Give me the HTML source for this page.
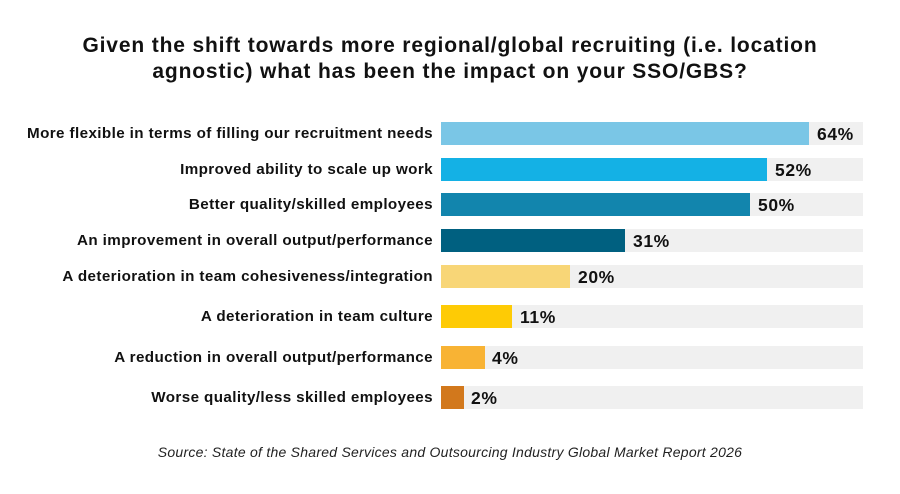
<!DOCTYPE html>
<html><head><meta charset="utf-8"><style>
body{margin:0;width:900px;height:494px;background:#fff;font-family:"Liberation Sans",sans-serif;position:relative;overflow:hidden}
.t{position:absolute;left:0;width:900px;text-align:center;font-weight:bold;font-size:21px;letter-spacing:0.85px;color:#111}
.l{position:absolute;right:467px;font-weight:bold;font-size:15.2px;letter-spacing:0.4px;color:#111;white-space:nowrap;line-height:24px}
.tr{position:absolute;left:441px;width:422px;height:23px;background:#f0f0f0}
.b{position:absolute;left:441px;height:23px}
.v{position:absolute;font-weight:bold;font-size:17.5px;letter-spacing:0.6px;color:#111;line-height:24px}
.s{position:absolute;top:444px;left:0;width:900px;text-align:center;font-style:italic;font-size:14px;letter-spacing:0.25px;color:#222}
</style></head><body>
<div class="t" style="top:34px">Given the shift towards more regional/global recruiting (i.e. location</div>
<div class="t" style="top:60px">agnostic) what has been the impact on your SSO/GBS?</div>

<div class="tr" style="top:122px"></div><div class="b" style="top:122px;width:368px;background:#7ac6e6"></div>
<div class="l" style="top:122px">More flexible in terms of filling our recruitment needs</div><div class="v" style="top:122px;left:817px">64%</div>

<div class="tr" style="top:158px"></div><div class="b" style="top:158px;width:326px;background:#14b1e5"></div>
<div class="l" style="top:158px">Improved ability to scale up work</div><div class="v" style="top:158px;left:775px">52%</div>

<div class="tr" style="top:193px"></div><div class="b" style="top:193px;width:309px;background:#1285ad"></div>
<div class="l" style="top:193px">Better quality/skilled employees</div><div class="v" style="top:193px;left:758px">50%</div>

<div class="tr" style="top:229px"></div><div class="b" style="top:229px;width:184px;background:#006080"></div>
<div class="l" style="top:229px">An improvement in overall output/performance</div><div class="v" style="top:229px;left:633px">31%</div>

<div class="tr" style="top:265px"></div><div class="b" style="top:265px;width:129px;background:#f8d677"></div>
<div class="l" style="top:265px">A deterioration in team cohesiveness/integration</div><div class="v" style="top:265px;left:578px">20%</div>

<div class="tr" style="top:305px"></div><div class="b" style="top:305px;width:71px;background:#fecb05"></div>
<div class="l" style="top:305px">A deterioration in team culture</div><div class="v" style="top:305px;left:520px">11%</div>

<div class="tr" style="top:346px"></div><div class="b" style="top:346px;width:44px;background:#f8b334"></div>
<div class="l" style="top:346px">A reduction in overall output/performance</div><div class="v" style="top:346px;left:492px">4%</div>

<div class="tr" style="top:386px"></div><div class="b" style="top:386px;width:23px;background:#d2781c"></div>
<div class="l" style="top:386px">Worse quality/less skilled employees</div><div class="v" style="top:386px;left:471px">2%</div>

<div class="s">Source: State of the Shared Services and Outsourcing Industry Global Market Report 2026</div>
</body></html>
